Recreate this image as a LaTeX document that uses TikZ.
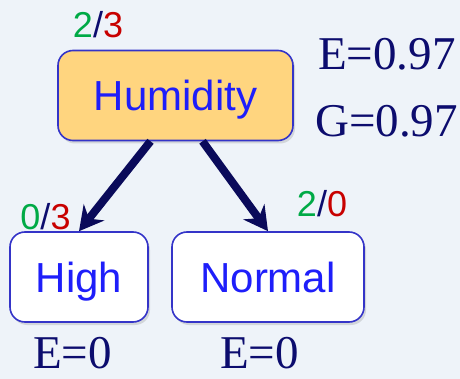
\documentclass[tikz,border=0pt]{standalone}
\usepackage{fontspec}
\setmainfont{Liberation Serif}
\setsansfont{Liberation Sans}
\usepackage{tikz}
\usetikzlibrary{arrows.meta, positioning, calc, shadows}
\definecolor{cBack}{RGB}{238,243,249}
\definecolor{cBorder}{RGB}{52,52,200}
\definecolor{cText}{RGB}{30,30,250}
\definecolor{cRoot}{RGB}{255,213,127}
\definecolor{cNavy}{RGB}{12,12,110}
\definecolor{cArrow}{RGB}{10,10,90}
\definecolor{cYes}{RGB}{0,170,70}
\definecolor{cNo}{RGB}{200,0,0}
\newcommand{\boxfont}{\sffamily\fontsize{42}{42}\selectfont}
\newcommand{\countfont}{\sffamily\fontsize{36}{36}\selectfont}
\newcommand{\valfont}{\rmfamily\fontsize{47}{47}\selectfont}
\newcommand{\ratio}[2]{\textcolor{cYes}{#1}\textcolor{cNavy}{/}\textcolor{cNo}{#2}}

\begin{document}
\begin{tikzpicture}[x=1pt, y=-1pt,
    treebox/.style={draw=cBorder, line width=1.6pt, rounded corners=15pt, fill=white,
      font=\boxfont, text=cText, text height=30pt, text depth=0pt, minimum height=90pt,
      drop shadow={shadow xshift=2pt, shadow yshift=-3pt, opacity=0.25}},
    split/.style={draw=cArrow, line width=8pt, -{Stealth[length=24pt, width=26pt, inset=8pt]}},
    count/.style={font=\countfont, text height=25pt, text depth=0pt, inner sep=0pt},
    score/.style={font=\valfont, text=cNavy, inner sep=0pt, anchor=base west}]
	\fill[cBack] (0,0) rectangle (460,379);
	\useasboundingbox (0,0) rectangle (460,379);
	% tree
	\node[treebox, fill=cRoot, minimum width=235pt] (hum) at (175.5,95.5) {Humidity};
	\node[treebox, minimum width=138pt] (high) at (79,277) {High};
	\node[treebox, minimum width=192pt] (normal) at (268,277) {Normal};
	\draw[split] ([xshift=-25pt]hum.south) -- (high.north);
	\draw[split] ([xshift=27pt]hum.south) -- (normal.north);
	% class counts
	\node[count] (humcount) at (98,25) {\ratio{2}{3}};
	\node[count] (highcount) at (45.5,217) {\ratio{0}{3}};
	\node[count] (normalcount) at (322,204) {\ratio{2}{0}};
	% entropy and gain
	\node[score] (humE) at (318,70) {E=0.97};
	\node[score] (humG) at (315,137) {G=0.97};
	\node[score] (highE) at (33,368) {E=0};
	\node[score] (normalE) at (220,368) {E=0};
\end{tikzpicture}
\end{document}
